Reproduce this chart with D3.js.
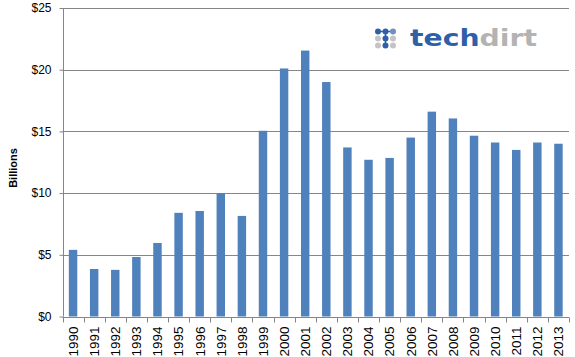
<!DOCTYPE html>
<html><head><meta charset="utf-8">
<script src="https://cdn.jsdelivr.net/npm/d3@7"></script>
<style>html,body{margin:0;padding:0;background:#fff;}svg{display:block;}</style>
</head><body>
<svg id="chart" width="575" height="357"></svg>
<script>
const years = ["1990","1991","1992","1993","1994","1995","1996","1997","1998","1999","2000","2001","2002","2003","2004","2005","2006","2007","2008","2009","2010","2011","2012","2013"];
const billions = [5.4,3.85,3.78,4.82,5.96,8.4,8.55,10.0,8.15,15.05,20.1,21.55,19.0,13.7,12.7,12.85,14.5,16.6,16.05,14.65,14.1,13.5,14.1,14.0];
const yTicks = [0,5,10,15,20,25];
const yTickLabels = ["$0","$5","$10","$15","$20","$25"];

(function(){
const svg = d3.select("#chart");
const pLeft = 62.5, pRight = 569, pTop = 8, pBottom = 316.5;
const font = "'Liberation Sans', Arial, sans-serif";
const axisColor = "#868686";

const x = d3.scaleBand().domain(years).range([pLeft, pRight]).paddingInner(0.6).paddingOuter(0.3);
const y = d3.scaleLinear().domain([0,25]).range([pBottom, pTop]);

// gridlines
svg.append("g").selectAll("line").data(yTicks.filter(d=>d>0)).join("line")
  .attr("x1", pLeft).attr("x2", pRight)
  .attr("y1", d=>Math.round(y(d))+0.5).attr("y2", d=>Math.round(y(d))+0.5)
  .attr("stroke", axisColor).attr("stroke-width", 1);

// bars
svg.append("g").selectAll("rect").data(years).join("rect")
  .attr("x", d=>x(d)).attr("width", x.bandwidth())
  .attr("y", (d,i)=>y(billions[i])).attr("height", (d,i)=>pBottom - y(billions[i]))
  .attr("fill", "#4f81bd");

// y axis
const yAxis = d3.axisLeft(y).tickValues(yTicks).tickFormat((d,i)=>yTickLabels[i]).tickSize(4).tickPadding(8);
const gy = svg.append("g").attr("transform", `translate(${Math.round(pLeft)+0.5},0)`).call(yAxis);
gy.select(".domain").attr("stroke", axisColor).attr("d", `M0,${pTop}V${pBottom}`);
gy.selectAll(".tick line").attr("stroke", axisColor);
gy.selectAll(".tick text").attr("font-family", font).attr("font-size", 12).attr("fill", "#000");

// x axis
const xAxis = d3.axisBottom(x).tickSize(0).tickPadding(0);
const gx = svg.append("g").attr("transform", `translate(0,${Math.round(pBottom)+0.5})`).call(xAxis);
gx.select(".domain").attr("stroke", axisColor).attr("d", `M${pLeft},0H${pRight}`);
gx.selectAll(".tick text")
  .attr("font-family", font).attr("font-size", 13.5).attr("fill", "#000")
  .attr("text-anchor", "end")
  .attr("transform", "rotate(-90)")
  .attr("x", -9).attr("y", 0).attr("dy", "0.36em");
// boundary tick marks
const bounds = d3.range(years.length + 1).map(i => pLeft + i * x.step());
gx.append("g").selectAll("line").data(bounds).join("line")
  .attr("x1", d=>Math.round(d)+0.5).attr("x2", d=>Math.round(d)+0.5)
  .attr("y1", 0).attr("y2", 5).attr("stroke", axisColor);

// y label
svg.append("text").attr("transform", "translate(17,168) rotate(-90)")
  .attr("text-anchor", "middle").attr("font-family", font).attr("font-weight", "bold")
  .attr("font-size", 11).attr("fill", "#000").text("Billions");

// logo
const logo = svg.append("g");
const dotX = [378, 385.5, 393], dotY = [31.5, 38.5, 45.5];
const blue = "#2f5fa7", gray = "#c4c4c4";
const dotColors = [[blue, blue, "#6f8fc4"], [gray, blue, gray], [gray, blue, gray]];
logo.append("line").attr("x1", dotX[0]).attr("x2", dotX[2]).attr("y1", dotY[0]).attr("y2", dotY[0]).attr("stroke", blue).attr("stroke-width", 1.5);
logo.append("line").attr("x1", dotX[1]).attr("x2", dotX[1]).attr("y1", dotY[0]).attr("y2", dotY[2]).attr("stroke", blue).attr("stroke-width", 1.5);
dotY.forEach((yy, r) => dotX.forEach((xx, c) => {
  logo.append("circle").attr("cx", xx).attr("cy", yy).attr("r", 3).attr("fill", dotColors[r][c]);
}));
const lt = logo.append("text").attr("x", 410).attr("y", 46)
  .attr("font-family", "'DejaVu Sans', sans-serif").attr("font-size", 23).attr("font-weight", "bold")
  .attr("textLength", 127).attr("lengthAdjust", "spacingAndGlyphs");
lt.append("tspan").attr("fill", blue).text("tech");
lt.append("tspan").attr("fill", "#b3b3b3").text("dirt");
})();
</script>
</body></html>
